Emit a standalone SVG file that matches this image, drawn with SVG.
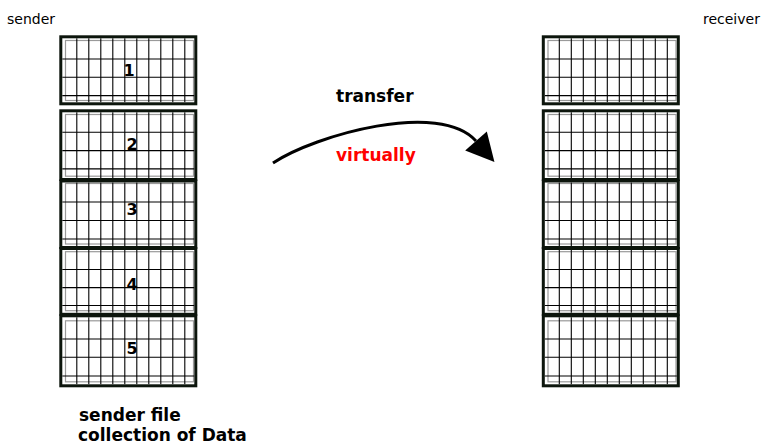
<svg xmlns="http://www.w3.org/2000/svg" xmlns:xlink="http://www.w3.org/1999/xlink" width="767" height="446" viewBox="0 0 767 446">
<style>
.border{fill:none;stroke:#0c150c;stroke-width:3}
.inner{fill:none;stroke:#9a9a9a;stroke-width:1.2}
.grid{fill:none;stroke:#000;stroke-width:1.1}
.lbl{font-family:"DejaVu Sans",sans-serif;font-size:14px;fill:#000}
.num{font-family:"DejaVu Sans",sans-serif;font-size:16px;font-weight:bold;fill:#000;text-anchor:middle}
.bold{font-family:"DejaVu Sans",sans-serif;font-size:17px;font-weight:bold;fill:#000}
.conn{fill:none;stroke:#000;stroke-width:3}
</style>
<defs>
<marker id="arrow" markerUnits="userSpaceOnUse" markerWidth="32" markerHeight="32" viewBox="0 -16 30 32" refX="0" refY="0" orient="auto">
<path d="M0,-14.4 L28,0 L0,14.4 z" fill="#000"/>
</marker>
<g id="box1">
<rect class="inner" x="65.5" y="40.5" width="128" height="60"/>
<path class="grid" d="M76.8,38.3v64m12,-64v64m12,-64v64m12,-64v64m12,-64v64m12,-64v64m12,-64v64m12,-64v64m12,-64v64m12,-64v64"/>
<path class="grid" d="M62.3,59h132m-132,18.3h132m-132,18.3h132"/>
<rect class="border" x="60.8" y="36.8" width="135" height="67"/>
</g>
<g id="box2">
<rect class="inner" x="65.5" y="114.5" width="128" height="61.7"/>
<path class="grid" d="M76.8,112.3v65.7m12,-65.7v65.7m12,-65.7v65.7m12,-65.7v65.7m12,-65.7v65.7m12,-65.7v65.7m12,-65.7v65.7m12,-65.7v65.7m12,-65.7v65.7m12,-65.7v65.7"/>
<path class="grid" d="M62.3,132.3h132m-132,18.3h132m-132,18.3h132"/>
<rect class="border" x="60.8" y="110.8" width="135" height="68.7"/>
</g>
<g id="box3">
<rect class="inner" x="65.5" y="183.5" width="128" height="60.5"/>
<path class="grid" d="M76.8,182.5v63.5m12,-63.5v63.5m12,-63.5v63.5m12,-63.5v63.5m12,-63.5v63.5m12,-63.5v63.5m12,-63.5v63.5m12,-63.5v63.5m12,-63.5v63.5m12,-63.5v63.5"/>
<path class="grid" d="M62.3,202h132m-132,18.5h132m-132,18.5h132"/>
<rect class="border" x="60.8" y="181" width="135" height="66.5"/>
</g>
<g id="box4">
<rect class="inner" x="65.5" y="251.7" width="128" height="59"/>
<path class="grid" d="M76.8,250v62.8m12,-62.8v62.8m12,-62.8v62.8m12,-62.8v62.8m12,-62.8v62.8m12,-62.8v62.8m12,-62.8v62.8m12,-62.8v62.8m12,-62.8v62.8m12,-62.8v62.8"/>
<path class="grid" d="M62.3,269.5h132m-132,18.1h132m-132,17.9h132"/>
<rect class="border" x="60.8" y="248.5" width="135" height="65.8"/>
</g>
<g id="box5">
<rect class="inner" x="65.5" y="320.8" width="128" height="61"/>
<path class="grid" d="M76.8,317.3v67m12,-67v67m12,-67v67m12,-67v67m12,-67v67m12,-67v67m12,-67v67m12,-67v67m12,-67v67m12,-67v67"/>
<path class="grid" d="M62.3,339h132m-132,18.3h132m-132,18.7h132"/>
<rect class="border" x="60.8" y="315.8" width="135" height="70"/>
</g>
</defs>
<rect width="767" height="446" fill="#fff"/>

<g id="sender-label"><text class="lbl" x="7" y="24">sender</text></g>
<g id="receiver-label"><text class="lbl" x="703" y="24">receiver</text></g>

<g id="sender-block-1"><use xlink:href="#box1"/><text class="num" x="129" y="76">1</text></g>
<g id="sender-block-2"><use xlink:href="#box2"/><text class="num" x="132" y="150">2</text></g>
<g id="sender-block-3"><use xlink:href="#box3"/><text class="num" x="132" y="215">3</text></g>
<g id="sender-block-4"><use xlink:href="#box4"/><text class="num" x="132" y="290">4</text></g>
<g id="sender-block-5"><use xlink:href="#box5"/><text class="num" x="132" y="354">5</text></g>

<g id="receiver-block-1"><use xlink:href="#box1" x="482.5"/></g>
<g id="receiver-block-2"><use xlink:href="#box2" x="482.5"/></g>
<g id="receiver-block-3"><use xlink:href="#box3" x="482.5"/></g>
<g id="receiver-block-4"><use xlink:href="#box4" x="482.5"/></g>
<g id="receiver-block-5"><use xlink:href="#box5" x="482.5"/></g>

<g id="connectors">
<path class="conn" d="M273,163 C315,135 440,100 476,141" marker-end="url(#arrow)"/>
</g>

<g id="transfer-label"><text class="bold" x="336" y="102">transfer</text></g>
<g id="virtually-label"><text class="bold" x="336" y="161" fill="#ff0000" style="fill:#ff0000">virtually</text></g>
<g id="caption">
<text class="bold" x="79" y="421">sender file</text>
<text class="bold" x="78" y="441">collection of Data</text>
</g>
</svg>
